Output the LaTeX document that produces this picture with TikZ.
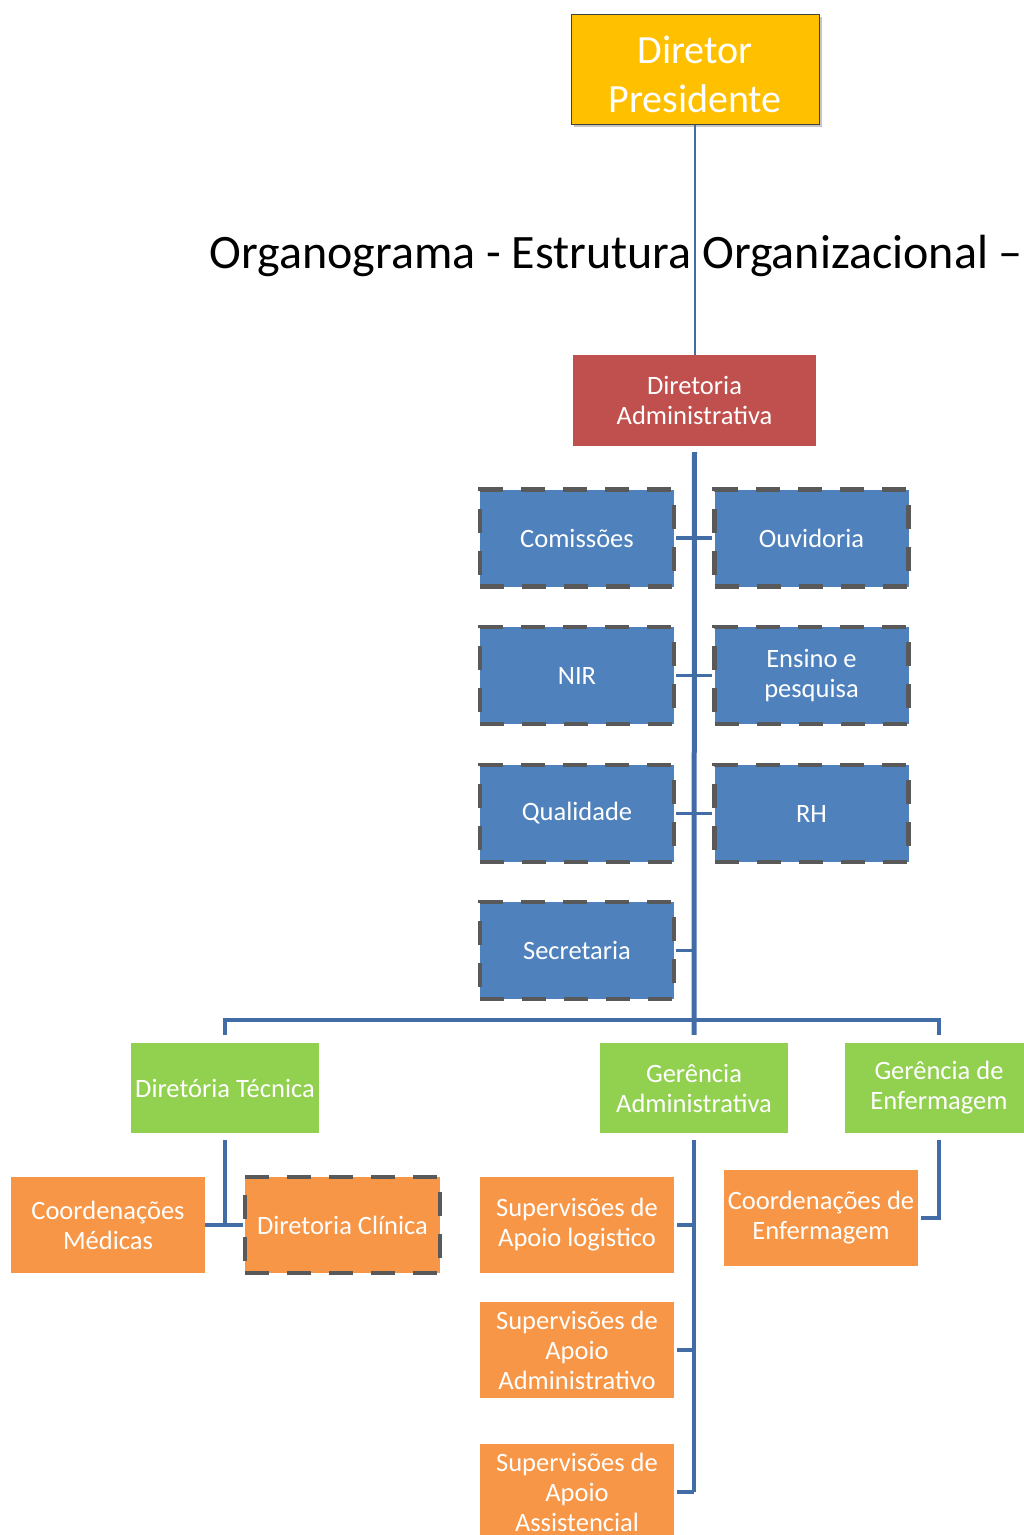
\documentclass[tikz,border=0pt]{standalone}
\usepackage{fontspec}
\setmainfont{Carlito}
\usetikzlibrary{shadows}

\definecolor{ouro}{RGB}{255,192,0}
\definecolor{tijolo}{RGB}{192,80,77}
\definecolor{azul}{RGB}{79,129,189}
\definecolor{verde}{RGB}{146,208,80}
\definecolor{laranja}{RGB}{247,150,70}
\definecolor{linha}{RGB}{65,108,165}
\definecolor{borda}{RGB}{89,89,89}

\begin{document}
\begin{tikzpicture}[x=1pt,y=-1pt,
    caixa/.style={fill=#1,text=white,align=center,inner sep=0pt,
        minimum width=194pt,minimum height=97pt,font=\fontsize{26.5}{30}\selectfont},
    tracejada/.style={draw=borda,line width=4.5pt,dash pattern=on 24pt off 18pt},
    liga/.style={draw=linha,line width=4pt}]

    \useasboundingbox (0,0) rectangle (1024,1535);
    \clip (0,0) rectangle (1024,1535);

    \node [caixa=ouro,draw=black!75,line width=1pt,minimum width=248pt,minimum height=110pt,
        font=\fontsize{40}{49}\selectfont,
        drop shadow={shadow xshift=3pt,shadow yshift=-3pt,opacity=.45}]
        (pres) at (695,69) {\rule{0pt}{38pt}Diretor\\Presidente};
    \node [anchor=base west,font=\fontsize{48}{52}\selectfont] (titulo) at (206,268)
        {Organograma - Estrutura Organizacional –};
    \node [caixa=tijolo,minimum width=243pt,minimum height=91pt] (adm) at (694.5,400.5)
        {Diretoria\\Administrativa};
    \draw [linha,line width=1.5pt] (pres.south) -- (pres.south |- adm.north);

    \node [caixa=azul,tracejada] (com) at (577,538) {Comissões};
    \node [caixa=azul,tracejada] (ouv) at (811.5,538) {Ouvidoria};
    \node [caixa=azul,tracejada] (nir) at (577,675.5) {NIR};
    \node [caixa=azul,tracejada] (ens) at (811.5,675.5) {Ensino e\\pesquisa};
    \node [caixa=azul,tracejada] (qual) at (577,813.5) {Qualidade};
    \node [caixa=azul,tracejada] (rh) at (811.5,813.5) {RH};
    \node [caixa=azul,tracejada] (sec) at (577,950.5) {Secretaria};

    \node [caixa=verde,minimum width=188pt,minimum height=90pt] (dt) at (225,1088) {Diretória Técnica};
    \node [caixa=verde,minimum width=188pt,minimum height=90pt] (ga) at (694,1088) {Gerência\\Administrativa};
    \node [caixa=verde,minimum width=188pt,minimum height=90pt] (ge) at (939,1088) {Gerência de\\Enfermagem};

    \node [caixa=laranja,minimum height=96pt] (cm) at (108,1225) {Coordenações\\Médicas};
    \node [caixa=laranja,tracejada,minimum width=195pt,minimum height=96pt] (dc) at (342.5,1225) {Diretoria Clínica};
    \node [caixa=laranja,minimum height=96pt] (slog) at (577,1225) {Supervisões de\\Apoio logistico};
    \node [caixa=laranja,minimum height=96pt] (sadm) at (577,1350) {Supervisões de\\Apoio\\Administrativo};
    \node [caixa=laranja,minimum height=96pt] (sas) at (577,1492) {Supervisões de\\Apoio\\Assistencial};
    \node [caixa=laranja,minimum height=96pt] (ce) at (821,1218) {Coordenações de\\Enfermagem};

    \coordinate (barra) at (694,1020);
    \draw [liga,line width=5pt,shorten <=6pt,shorten >=8pt] (adm.south) -- (ga.north);
    \draw [liga] ([yshift=8pt]dt.north) |- (barra) -| ([yshift=8pt]ge.north);
    \foreach \n in {com,nir,qual,sec}
        \draw [liga,line width=3.5pt] (\n.east) -- (\n.east -| ga.north);
    \foreach \n in {ouv,ens,rh}
        \draw [liga,line width=3.5pt] (\n.west) -- (\n.west -| ga.north);

    \draw [liga] ([yshift=-7pt]dt.south) -- (dt.south |- cm.east);
    \draw [liga] (cm.east) -- (dc.west);
    \draw [liga] ([yshift=-7pt]ga.south) -- (ga.south |- sas.east);
    \foreach \n in {slog,sadm,sas}
        \draw [liga,line width=3.5pt] ([xshift=3pt]\n.east) -- (\n.east -| ga.south);
    \draw [liga] ([yshift=-7pt]ge.south) |- ([xshift=3pt]ce.east);

\end{tikzpicture}
\end{document}
